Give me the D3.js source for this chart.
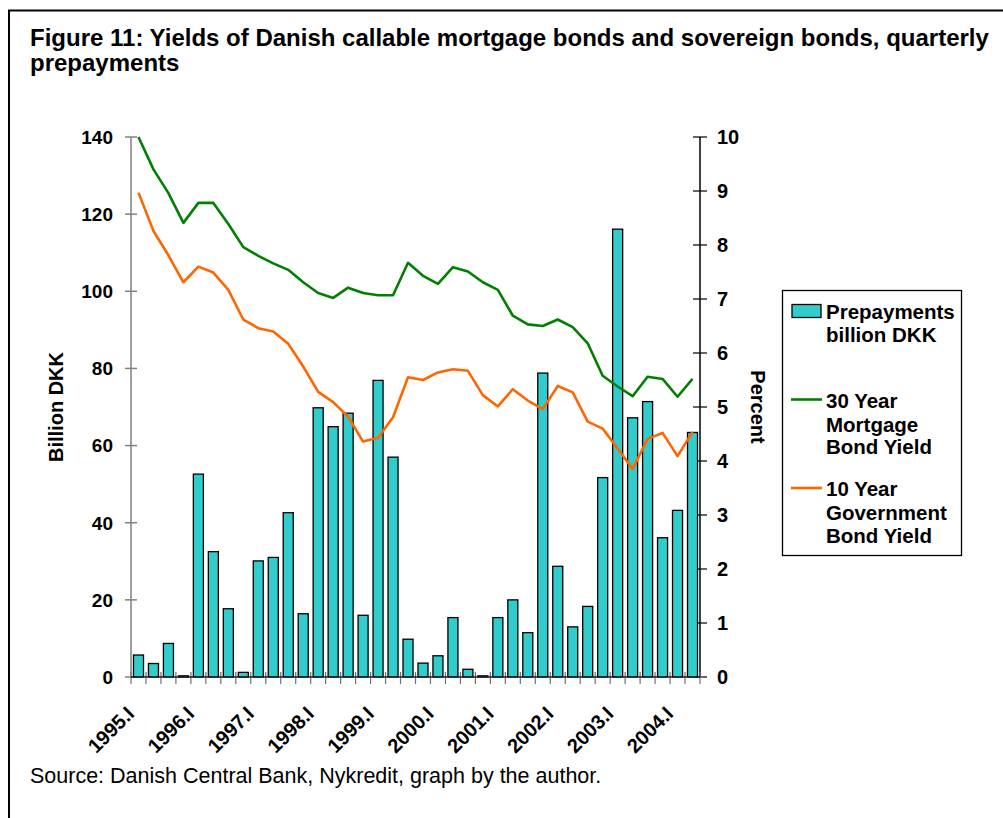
<!DOCTYPE html>
<html>
<head>
<meta charset="utf-8">
<script src="https://cdn.jsdelivr.net/npm/d3@7"></script>
<style>
    body { margin: 0; background: white; }
    text { font-family: "Liberation Sans", Arial, sans-serif; }
</style>
</head>
<body>
<div id="canvas"></div>
<script>
"use strict"

// DATA

let quarters = [
    "1995.I", "1995.II", "1995.III", "1995.IV",
    "1996.I", "1996.II", "1996.III", "1996.IV",
    "1997.I", "1997.II", "1997.III", "1997.IV",
    "1998.I", "1998.II", "1998.III", "1998.IV",
    "1999.I", "1999.II", "1999.III", "1999.IV",
    "2000.I", "2000.II", "2000.III", "2000.IV",
    "2001.I", "2001.II", "2001.III", "2001.IV",
    "2002.I", "2002.II", "2002.III", "2002.IV",
    "2003.I", "2003.II", "2003.III", "2003.IV",
    "2004.I", "2004.II"
];

// prepayments, billion DKK (left axis)
let prepayments = [
    5.7, 3.5, 8.7, 0.3, 52.6, 32.5, 17.7, 1.2, 30.1, 31.0,
    42.6, 16.4, 69.8, 64.9, 68.4, 16.0, 76.9, 57.0, 9.8, 3.6,
    5.5, 15.4, 2.0, 0.3, 15.4, 20.0, 11.5, 78.8, 28.7, 13.0,
    18.3, 51.7, 116.1, 67.2, 71.4, 36.1, 43.2, 63.4
];

// 30 year mortgage bond yield, percent (right axis)
let mortgage30 = [
    10.0, 9.40, 8.96, 8.41, 8.78, 8.78, 8.39, 7.96, 7.80, 7.66,
    7.54, 7.31, 7.11, 7.02, 7.21, 7.11, 7.07, 7.07, 7.67, 7.43,
    7.28, 7.59, 7.51, 7.31, 7.17, 6.69, 6.53, 6.50, 6.62, 6.48,
    6.18, 5.58, 5.38, 5.20, 5.56, 5.52, 5.19, 5.52
];

// 10 year government bond yield, percent (right axis)
let gov10 = [
    8.97, 8.26, 7.81, 7.31, 7.60, 7.49, 7.17, 6.62, 6.46, 6.40,
    6.17, 5.75, 5.28, 5.09, 4.82, 4.36, 4.43, 4.81, 5.55, 5.50,
    5.64, 5.70, 5.67, 5.22, 5.01, 5.33, 5.12, 4.96, 5.39, 5.27,
    4.73, 4.60, 4.23, 3.85, 4.41, 4.52, 4.09, 4.54
];

let leftTicks = [0, 20, 40, 60, 80, 100, 120, 140];
let rightTicks = [0, 1, 2, 3, 4, 5, 6, 7, 8, 9, 10];
let yearLabels = ["1995.I", "1996.I", "1997.I", "1998.I", "1999.I",
    "2000.I", "2001.I", "2002.I", "2003.I", "2004.I"];

// CANVAS

let svgWidth = 1003;
let svgHeight = 818;

let plotLeft = 131;
let plotRight = 700;
let plotTop = 137;
let plotBottom = 677;

let barColor = "#33CCCC";
let greenColor = "#008000";
let orangeColor = "#FF6600";

let svg = d3.select("#canvas")
    .append("svg")
    .attr("width", svgWidth)
    .attr("height", svgHeight);

// frame round the figure (right and bottom edges run off the page)
svg.append("rect")
    .attr("x", 9)
    .attr("y", 10.5)
    .attr("width", svgWidth + 20)
    .attr("height", svgHeight + 20)
    .attr("fill", "white")
    .attr("stroke", "black")
    .attr("stroke-width", 2);

// TITLE

svg.append("text")
    .attr("x", 30)
    .attr("y", 46)
    .style("font-size", "24px")
    .style("font-weight", "bold")
    .text("Figure 11: Yields of Danish callable mortgage bonds and sovereign bonds, quarterly");

svg.append("text")
    .attr("x", 30)
    .attr("y", 71)
    .style("font-size", "24px")
    .style("font-weight", "bold")
    .text("prepayments");

// SCALES

let xScale = d3.scaleBand()
    .domain(quarters)
    .range([plotLeft, plotRight])
    .paddingInner(0.33)
    .paddingOuter(0.165);

let step = xScale.step();
let bw = xScale.bandwidth();

function xCenter(q) {
    return xScale(q) + bw / 2;
}

let yLeft = d3.scaleLinear()
    .domain([0, 140])
    .range([plotBottom, plotTop]);

let yRight = d3.scaleLinear()
    .domain([0, 10])
    .range([plotBottom, plotTop]);

// AXES

// left axis (grey)
svg.append("line")
    .attr("x1", plotLeft).attr("x2", plotLeft)
    .attr("y1", plotTop).attr("y2", plotBottom)
    .attr("stroke", "#808080")
    .attr("stroke-width", 1.5);

for (let i = 0; i < leftTicks.length; i++) {
    let y = yLeft(leftTicks[i]);
    svg.append("line")
        .attr("x1", plotLeft - 6).attr("x2", plotLeft + 6)
        .attr("y1", y).attr("y2", y)
        .attr("stroke", "#808080")
        .attr("stroke-width", 1.5);
    svg.append("text")
        .attr("x", 113)
        .attr("y", y)
        .attr("dy", "0.36em")
        .style("text-anchor", "end")
        .style("font-size", "19px")
        .style("font-weight", "bold")
        .text(leftTicks[i]);
}

// right axis (black)
svg.append("line")
    .attr("x1", plotRight).attr("x2", plotRight)
    .attr("y1", plotTop).attr("y2", plotBottom)
    .attr("stroke", "black")
    .attr("stroke-width", 1.5);

for (let i = 0; i < rightTicks.length; i++) {
    let y = yRight(rightTicks[i]);
    svg.append("line")
        .attr("x1", plotRight - 7).attr("x2", plotRight + 7)
        .attr("y1", y).attr("y2", y)
        .attr("stroke", "black")
        .attr("stroke-width", 1.2);
    svg.append("text")
        .attr("x", 717)
        .attr("y", y)
        .attr("dy", "0.36em")
        .style("font-size", "20px")
        .style("font-weight", "bold")
        .text(rightTicks[i]);
}

// category ticks on the bottom, at the band edges
for (let i = 0; i <= quarters.length; i++) {
    let x = plotLeft + xScale.paddingOuter() * step + i * step - (step - bw) / 2;
    svg.append("line")
        .attr("x1", x).attr("x2", x)
        .attr("y1", plotBottom - 5).attr("y2", plotBottom + 7)
        .attr("stroke", "#707070")
        .attr("stroke-width", 1.2);
}

// BARS

svg.selectAll(".bar")
    .data(prepayments)
    .join("rect")
    .attr("class", "bar")
    .attr("x", function (value, i) {
        return xScale(quarters[i]);
    })
    .attr("y", function (value) {
        return yLeft(value);
    })
    .attr("width", bw)
    .attr("height", function (value) {
        return plotBottom - yLeft(value);
    })
    .attr("fill", barColor)
    .attr("stroke", "black")
    .attr("stroke-width", 1.3);

// bottom axis line on top of bar feet
svg.append("line")
    .attr("x1", plotLeft).attr("x2", plotRight)
    .attr("y1", plotBottom).attr("y2", plotBottom)
    .attr("stroke", "#202020")
    .attr("stroke-width", 1.5);

// LINES

let line = d3.line()
    .x(function (value, i) {
        return xCenter(quarters[i]);
    })
    .y(function (value) {
        return yRight(value);
    });

svg.append("path")
    .datum(mortgage30)
    .attr("fill", "none")
    .attr("stroke", greenColor)
    .attr("stroke-width", 2.6)
    .attr("stroke-linejoin", "round")
    .attr("d", line);

svg.append("path")
    .datum(gov10)
    .attr("fill", "none")
    .attr("stroke", orangeColor)
    .attr("stroke-width", 2.6)
    .attr("stroke-linejoin", "round")
    .attr("d", line);

// X LABELS (one per year)

for (let i = 0; i < yearLabels.length; i++) {
    let x = xCenter(yearLabels[i]) - 3;
    svg.append("text")
        .attr("transform", "translate(" + x + ",715) rotate(-45)")
        .style("text-anchor", "end")
        .style("font-size", "20px")
        .style("font-weight", "bold")
        .text(yearLabels[i]);
}

// AXIS TITLES

svg.append("text")
    .attr("transform", "translate(63," + (plotTop + plotBottom) / 2 + ") rotate(-90)")
    .style("text-anchor", "middle")
    .style("font-size", "20px")
    .style("font-weight", "bold")
    .text("Billion DKK");

svg.append("text")
    .attr("transform", "translate(751," + (plotTop + plotBottom) / 2 + ") rotate(90)")
    .style("text-anchor", "middle")
    .style("font-size", "20px")
    .style("font-weight", "bold")
    .text("Percent");

// LEGEND

svg.append("rect")
    .attr("x", 782.5)
    .attr("y", 290.5)
    .attr("width", 179)
    .attr("height", 265)
    .attr("fill", "white")
    .attr("stroke", "black")
    .attr("stroke-width", 1.3);

svg.append("rect")
    .attr("x", 792)
    .attr("y", 304.5)
    .attr("width", 29)
    .attr("height", 13)
    .attr("fill", barColor)
    .attr("stroke", "black")
    .attr("stroke-width", 1.3);

svg.append("line")
    .attr("x1", 791).attr("x2", 822)
    .attr("y1", 399.5).attr("y2", 399.5)
    .attr("stroke", greenColor)
    .attr("stroke-width", 2.6);

svg.append("line")
    .attr("x1", 791).attr("x2", 822)
    .attr("y1", 488).attr("y2", 488)
    .attr("stroke", orangeColor)
    .attr("stroke-width", 2.6);

let legendLines = [
    ["Prepayments", 319],
    ["billion DKK", 342],
    ["30 Year", 408],
    ["Mortgage", 431.5],
    ["Bond Yield", 454],
    ["10 Year", 496],
    ["Government", 519.5],
    ["Bond Yield", 543]
];

for (let i = 0; i < legendLines.length; i++) {
    svg.append("text")
        .attr("x", 826)
        .attr("y", legendLines[i][1])
        .style("font-size", "20.5px")
        .style("font-weight", "bold")
        .text(legendLines[i][0]);
}

// SOURCE NOTE

svg.append("text")
    .attr("x", 30)
    .attr("y", 783)
    .style("font-size", "21.5px")
    .text("Source: Danish Central Bank, Nykredit, graph by the author.");
</script>
</body>
</html>
